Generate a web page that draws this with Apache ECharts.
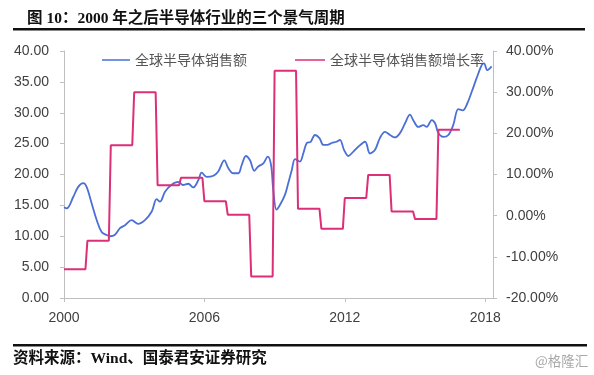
<!DOCTYPE html>
<html>
<head>
<meta charset="utf-8">
<script src="https://cdn.jsdelivr.net/npm/echarts@6/dist/echarts.min.js"></script>
<style>html,body{margin:0;padding:0;background:#fff;}#c{width:594px;height:375px;}</style>
</head>
<body>
<div id="c"></div>
<script>
// Blue series: global semiconductor sales, read at months since Jan 2000
const salesMonth = [0,1.4,4.8,7.3,9.9,11.6,14.2,16.8,19.3,21.9,
  23.6,26,28.7,31.3,34.7,38,41.5,45,47.5,49.2,
  51.8,55,58.6,61,63.7,66.3,68.9,70.6,73.2,76.6,
  79.1,82.2,84.3,86.8,89.4,91.1,93.3,95.4,97.6,99.6,
  102.2,104.5,106.2,107.3,109,110.8,113.3,115,116.8,118.5,
  121,122.7,124.5,126.5,128.7,131,133,135,137.3,139.8,
  141.5,143.6,145.8,148.4,150.9,154.4,156.9,159.5,162,164.6,
  167.2,169.7,172.3,174.9,177.4,179.1,181.7,184.3,186,188.6,
  190.3,192,194.5,197.1,199.6,202.2,204.5,206.8,209.1,211.6,
  214.2,215.4,217.1,219.3];
const salesValue = [14.7,14.5,16.4,18.0,18.6,18.0,15.3,12.6,10.7,10.2,
  10.0,10.2,11.3,11.8,12.6,12.0,12.6,14.0,16.0,15.6,
  17.2,18.3,18.8,18.3,18.5,17.9,19.1,20.3,19.6,19.8,
  20.5,22.3,21.0,20.2,20.2,21.5,23.0,22.3,20.6,21.3,
  21.8,22.9,21.5,17.5,14.3,15.1,16.7,18.6,20.7,22.5,
  22.1,23.4,25.1,25.3,26.4,25.9,24.8,24.8,25.1,25.3,
  25.6,24.0,23.0,23.7,24.5,25.3,23.4,24.0,25.9,26.9,
  26.4,26.0,26.7,28.3,29.7,28.8,27.7,28.0,27.7,28.8,
  28.3,26.7,26.1,26.4,28.0,30.6,30.4,31.5,33.4,35.6,
  37.7,38.0,36.9,37.5];

// Pink series: annual growth rate (%), held flat through each year
const growthYears = [2000,2001,2002,2003,2004,2005,2006,2007,2008,2009,2010,2011,2012,2013,2014,2015,2016];
const growthRate  = [-13.0,-6.1,17.1,30.0,7.4,9.2,3.5,0.2,-14.8,35.2,1.7,-3.2,4.3,9.9,1.0,-0.8,20.9];

const startYear = 2000;
const xTickYears = [2000, 2006, 2012, 2018];
const seriesNames = ['全球半导体销售额', '全球半导体销售额增长率'];

const salesData = salesMonth.map((m, i) => [m, salesValue[i]]);
const growthData = [];
growthYears.forEach((y, i) => {
  const m0 = (y - startYear) * 12;
  growthData.push([m0, growthRate[i]]);
  growthData.push([m0 + 11, growthRate[i]]);
});

const cjk = "'Noto Sans CJK SC', sans-serif";
const serifCjk = "'Liberation Serif', 'Noto Sans CJK SC', serif";
const labelFont = "'Liberation Sans', Arial, sans-serif";
const axisColor = '#bfbfbf';
const labelColor = '#404040';
const blue = '#4a6fd6';
const pink = '#dc2f78';

const chart = echarts.init(document.getElementById('c'), null, {renderer: 'canvas'});
chart.setOption({
  backgroundColor: '#ffffff',
  animation: false,
  title: {
    text: '图 10：2000 年之后半导体行业的三个景气周期',
    left: 22, top: 6,
    textStyle: {fontFamily: serifCjk, fontSize: 15.5, fontWeight: 'bold', color: '#111'}
  },
  graphic: [
    {type: 'rect', left: 13, top: 28, shape: {width: 572, height: 2.5}, style: {fill: '#111'}},
    {type: 'rect', left: 13, top: 344, shape: {width: 574, height: 2.5}, style: {fill: '#111'}},
    {type: 'text', left: 13, top: 351, style: {text: '资料来源：Wind、国泰君安证券研究', font: 'bold 15.5px ' + serifCjk, fill: '#111'}},
    {type: 'text', left: 535, top: 354, style: {text: '@格隆汇', font: '13.5px ' + cjk, fill: '#a8a8a8'}}
  ],
  legend: [
    {data: [seriesNames[0]], left: 97, top: 48, itemWidth: 28, itemHeight: 1.5, icon: 'rect',
     textStyle: {fontFamily: cjk, fontSize: 14, color: '#555'}},
    {data: [seriesNames[1]], left: 290, top: 48, itemWidth: 30, itemHeight: 1.5, icon: 'rect',
     textStyle: {fontFamily: cjk, fontSize: 14, color: '#555'}}
  ],
  grid: {left: 64, right: 101, top: 51, bottom: 77, containLabel: false},
  xAxis: {
    type: 'value', min: 0, max: 220, interval: 72,
    axisLine: {show: true, lineStyle: {color: axisColor, width: 1}},
    axisTick: {show: true, length: 4, lineStyle: {color: axisColor}},
    splitLine: {show: false},
    axisLabel: {
      margin: 13, color: labelColor, fontFamily: labelFont, fontSize: 14,
      showMaxLabel: false,
      formatter: v => {
        const y = startYear + Math.round(v / 12);
        return xTickYears.indexOf(y) >= 0 && v % 72 === 0 ? String(y) : '';
      }
    }
  },
  yAxis: [
    {type: 'value', min: 0, max: 40, interval: 5, position: 'left',
     axisLine: {show: true, lineStyle: {color: axisColor}},
     axisTick: {show: true, length: 4, lineStyle: {color: axisColor}},
     splitLine: {show: false},
     axisLabel: {margin: 15, color: labelColor, fontFamily: labelFont, fontSize: 14,
                 formatter: v => v.toFixed(2)}},
    {type: 'value', min: -20, max: 40, interval: 10, position: 'right',
     axisLine: {show: true, lineStyle: {color: axisColor}},
     axisTick: {show: true, length: 4, lineStyle: {color: axisColor}},
     splitLine: {show: false},
     axisLabel: {margin: 13, color: labelColor, fontFamily: labelFont, fontSize: 14,
                 formatter: v => v.toFixed(2) + '%'}}
  ],
  series: [
    {name: seriesNames[0], type: 'line', yAxisIndex: 0, data: salesData,
     symbol: 'none', smooth: 0.35, lineStyle: {color: blue, width: 1.8},
     itemStyle: {color: blue}},
    {name: seriesNames[1], type: 'line', yAxisIndex: 1, data: growthData,
     symbol: 'none', lineStyle: {color: pink, width: 2},
     itemStyle: {color: pink}}
  ]
});
</script>
</body>
</html>
